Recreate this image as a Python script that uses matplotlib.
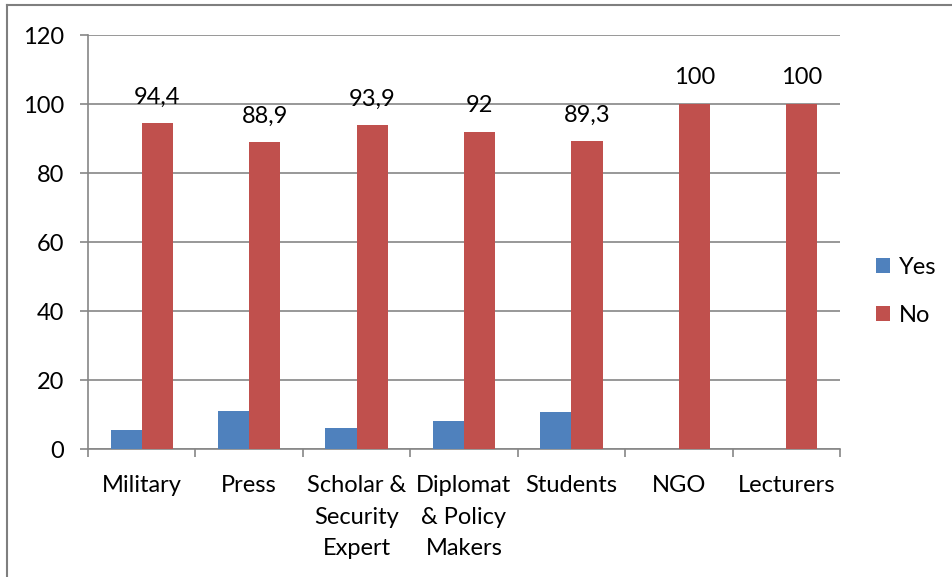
import numpy as np
import matplotlib
matplotlib.use('Agg')
import matplotlib.pyplot as plt
from matplotlib.lines import Line2D

# ----------------------------
# Data
# ----------------------------
categories = ["Military", "Press", "Scholar &\nSecurity\nExpert", "Diplomat\n& Policy\nMakers",
              "Students", "NGO", "Lecturers"]
yes_values = [5.6, 11.1, 6.1, 8.0, 10.7, 0, 0]
no_values = [94.4, 88.9, 93.9, 92.0, 89.3, 100, 100]
no_labels = ["94,4", "88,9", "93,9", "92", "89,3", "100", "100"]

blue = "#4f81bd"
red = "#c0504d"
grid_gray = "#868686"
fs = 17

plt.rcParams['font.family'] = ['Lato', 'DejaVu Sans']

fig = plt.figure(figsize=(9.53, 5.77), dpi=100)
ax = fig.add_axes([0.0923, 0.2218, 0.7891, 0.7175])

x = np.arange(len(categories))
w = 0.29
ax.bar(x - w / 2, yes_values, w, color=blue, label="Yes", zorder=3)
ax.bar(x + w / 2, no_values, w, color=red, label="No", zorder=3)

for xi, v, lab in zip(x, no_values, no_labels):
    ax.text(xi + w / 2, v + 4.5, lab, ha="center", va="bottom", fontsize=fs)

ax.set_xlim(-0.5, len(categories) - 0.5)
ax.set_ylim(0, 120)
ax.set_yticks(range(0, 121, 20))
ax.yaxis.grid(True, color=grid_gray, linewidth=1.2, zorder=0)

ax.set_xticks(x)
ax.set_xticklabels(categories, fontsize=fs, linespacing=1.6)
ax.tick_params(axis="x", length=0, pad=19)
ax.set_xticks(np.arange(-0.5, len(categories)), minor=True)
ax.tick_params(axis="x", which="minor", length=6, width=1.2, color=grid_gray)
ax.tick_params(axis="y", labelsize=fs, length=6, width=1.2, color=grid_gray, pad=11)

for side in ["top", "right"]:
    ax.spines[side].set_visible(False)
for side in ["left", "bottom"]:
    ax.spines[side].set_color(grid_gray)
    ax.spines[side].set_linewidth(1.2)

ax.legend(loc="center left", bbox_to_anchor=(1.035, 0.38), frameon=False, fontsize=fs,
          handlelength=0.6, handleheight=0.6, handletextpad=0.4, labelspacing=1.15,
          borderaxespad=0)

# outer chart border (left and top only visible)
fig.add_artist(Line2D([0.0073, 0.0073], [0, 0.9913], color="#7f7f7f", linewidth=1.5))
fig.add_artist(Line2D([0.0073, 0.999], [0.9913, 0.9913], color="#7f7f7f", linewidth=1.5))

plt.savefig("out.png", dpi=100)
plt.close()
